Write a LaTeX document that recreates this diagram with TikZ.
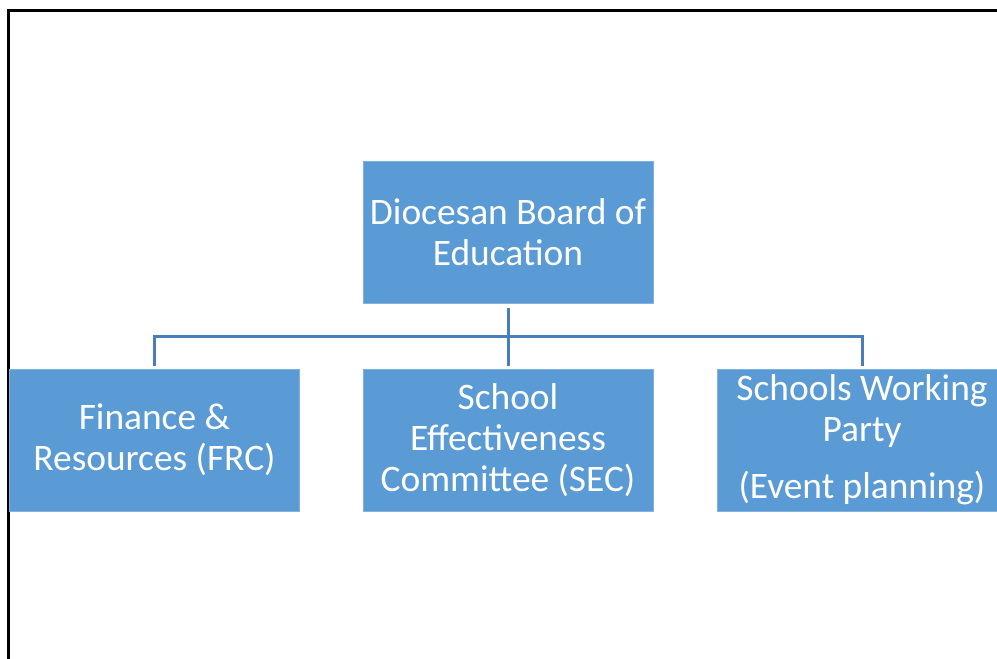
\documentclass[tikz,border=0pt]{standalone}
\usepackage{fontspec}
\setmainfont{Carlito}
\definecolor{boxfill}{HTML}{5B9BD5}
\definecolor{boxedge}{HTML}{7FB2E0}
\definecolor{linkc}{HTML}{4A7EBB}
\tikzset{
  orgbox/.style={fill=boxfill, draw=boxedge, line width=1pt, minimum width=290pt, minimum height=142pt,
    text=white, align=center, inner sep=0pt, font=\fontsize{37.4}{41}\selectfont},
  link/.style={draw=linkc, line width=3pt},
  frame/.style={draw=black, line width=3pt}
}
\begin{document}
\begin{tikzpicture}[x=1pt,y=-1pt]
\useasboundingbox (0,0) rectangle (997,659);
\clip (0,0) rectangle (997,659);
\draw[frame] (8,660) coordinate (fb) -- (8,10) coordinate (fc) -- (1000,10) coordinate (fr);
\node[orgbox] (top) at (508,232) {Diocesan Board of\\Education};
\node[orgbox] (frc) at (154.5,440) {Finance \&\\Resources (FRC)};
\node[orgbox] (sec) at (508,440) {School\\Effectiveness\\Committee (SEC)};
\node[orgbox] (swp) at (862,440) {Schools Working\\Party\\[16pt](Event planning)};
\coordinate (hub) at (508,336);
\draw[link] ([yshift=-4pt]top.south) -- (hub);
\draw[link] ([yshift=3pt]frc.north) -- (frc.north |- hub) -- (swp.north |- hub) -- ([yshift=3pt]swp.north);
\draw[link] (hub) -- ([yshift=3pt]sec.north);
\end{tikzpicture}
\end{document}
